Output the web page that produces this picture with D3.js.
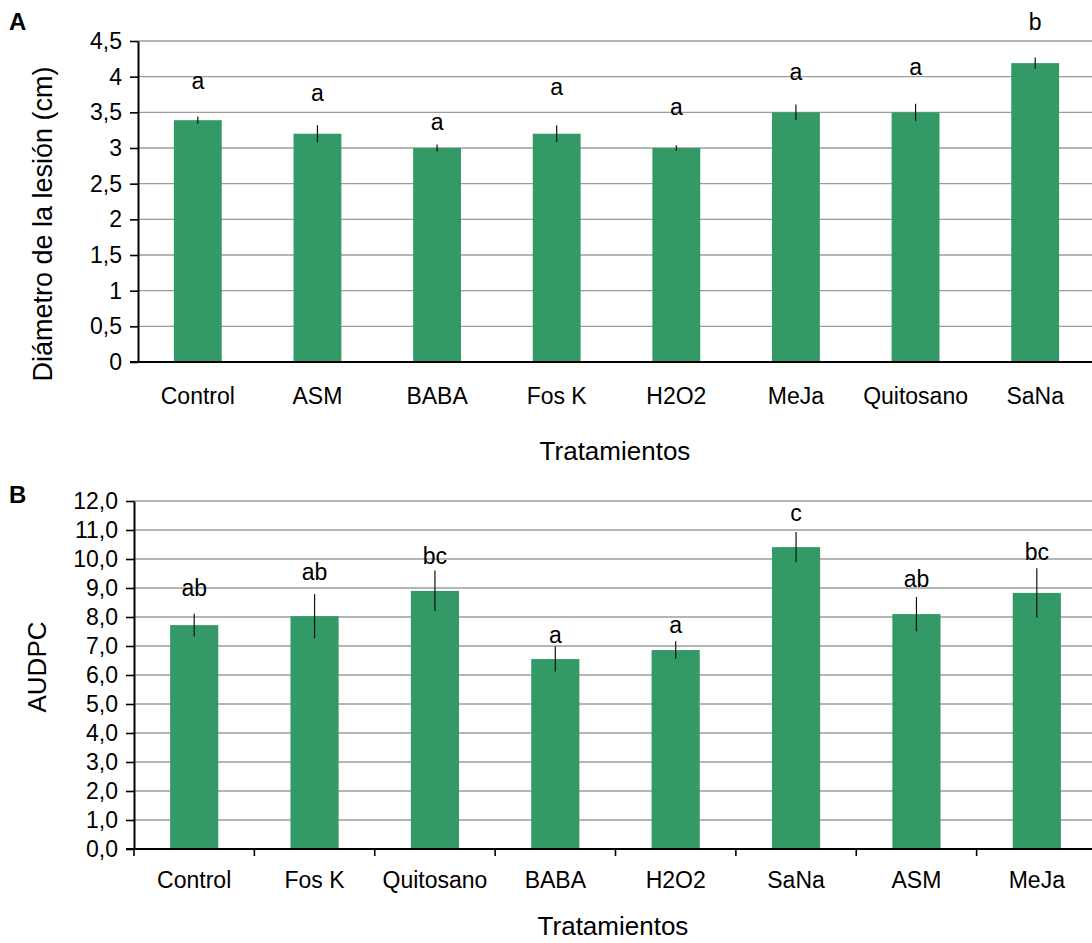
<!DOCTYPE html>
<html>
<head>
<meta charset="utf-8">
<script src="https://cdn.jsdelivr.net/npm/d3@7/dist/d3.min.js"></script>
<style>
  body { margin: 0; background: #fff; }
  text { font-family: "Liberation Sans", Arial, sans-serif; fill: #000; }
</style>
</head>
<body>
<svg id="chart" width="1092" height="943"></svg>
<script>
// panel A - diametro de la lesion
const catsA = ['Control', 'ASM', 'BABA', 'Fos K', 'H2O2', 'MeJa', 'Quitosano', 'SaNa'];
const valsA = [3.39, 3.2, 3.0, 3.2, 3.0, 3.5, 3.5, 4.19];
const errA = [0.05, 0.12, 0.05, 0.12, 0.04, 0.11, 0.12, 0.08];
const lettersA = ['a', 'a', 'a', 'a', 'a', 'a', 'a', 'b'];
const letterAtA = [3.95, 3.77, 3.37, 3.86, 3.58, 4.07, 4.14, 4.77];
const ticksA = [0, 0.5, 1, 1.5, 2, 2.5, 3, 3.5, 4, 4.5];

// panel B - AUDPC
const catsB = ['Control', 'Fos K', 'Quitosano', 'BABA', 'H2O2', 'SaNa', 'ASM', 'MeJa'];
const valsB = [7.72, 8.03, 8.9, 6.55, 6.86, 10.41, 8.1, 8.83];
const errB = [0.39, 0.76, 0.7, 0.43, 0.3, 0.52, 0.59, 0.85];
const lettersB = ['ab', 'ab', 'bc', 'a', 'a', 'c', 'ab', 'bc'];
const letterAtB = [9.0, 9.56, 10.1, 7.38, 7.72, 11.59, 9.31, 10.25];
const ticksB = d3.range(0, 12.01, 1);

const green = '#339966';
const comma = d3.formatLocale({ decimal: ',', thousands: '.', grouping: [3], currency: ['', ''] });

const svg = d3.select('#chart');

function drawPanel(opts) {
  const { cats, vals, errs, letters, letterAt, ticks, fmt, tag, yTitle,
          left, top, bottom, right, xTicks, tagY, catY, titleY, yTitleX, yTitleY, yTitleSize } = opts;

  const x = d3.scaleBand().domain(cats).range([left, right]).paddingInner(0.6).paddingOuter(0.3);
  const y = d3.scaleLinear().domain([0, ticks[ticks.length - 1]]).range([bottom, top]);

  const g = svg.append('g');

  // gridlines
  g.append('g')
    .selectAll('line')
    .data(ticks.slice(1))
    .join('line')
    .attr('x1', left)
    .attr('x2', 1092)
    .attr('y1', (d) => y(d))
    .attr('y2', (d) => y(d))
    .attr('stroke', '#9c9c9c')
    .attr('stroke-width', 1.4);

  // bars
  g.append('g')
    .selectAll('rect')
    .data(cats)
    .join('rect')
    .attr('x', (d) => x(d))
    .attr('width', x.bandwidth())
    .attr('y', (d, i) => y(vals[i]))
    .attr('height', (d, i) => bottom - y(vals[i]))
    .attr('fill', green);

  // error bars
  g.append('g')
    .selectAll('line')
    .data(cats)
    .join('line')
    .attr('x1', (d) => x(d) + x.bandwidth() / 2)
    .attr('x2', (d) => x(d) + x.bandwidth() / 2)
    .attr('y1', (d, i) => y(vals[i] + errs[i]))
    .attr('y2', (d, i) => y(vals[i] - errs[i]))
    .attr('stroke', '#111')
    .attr('stroke-width', 1.2);

  // significance letters
  g.append('g')
    .selectAll('text')
    .data(cats)
    .join('text')
    .attr('x', (d) => x(d) + x.bandwidth() / 2)
    .attr('y', (d, i) => y(letterAt[i]))
    .attr('dy', '0.36em')
    .attr('text-anchor', 'middle')
    .style('font-size', '23px')
    .text((d, i) => letters[i]);

  // y axis
  const yAxis = g.append('g')
    .attr('transform', `translate(${left},0)`)
    .call(d3.axisLeft(y).tickValues(ticks).tickFormat(fmt).tickSize(8).tickPadding(8).tickSizeOuter(0));
  yAxis.select('.domain').attr('stroke', '#000').attr('stroke-width', 2);
  yAxis.selectAll('.tick line').attr('stroke', '#000').attr('stroke-width', 1.6);
  yAxis.selectAll('.tick text').style('font-size', '23px').attr('fill', '#000');

  // x axis line
  g.append('line')
    .attr('x1', left - 8)
    .attr('x2', 1092)
    .attr('y1', bottom)
    .attr('y2', bottom)
    .attr('stroke', '#000')
    .attr('stroke-width', 2);

  if (xTicks) {
    const step = x.step();
    g.append('g')
      .selectAll('line')
      .data(d3.range(cats.length))
      .join('line')
      .attr('x1', (i) => left + i * step)
      .attr('x2', (i) => left + i * step)
      .attr('y1', bottom)
      .attr('y2', bottom + 7)
      .attr('stroke', '#000')
      .attr('stroke-width', 1.6);
  }

  // category labels
  g.append('g')
    .selectAll('text')
    .data(cats)
    .join('text')
    .attr('x', (d) => x(d) + x.bandwidth() / 2)
    .attr('y', catY)
    .attr('text-anchor', 'middle')
    .style('font-size', '23px')
    .text((d) => d);

  // axis titles
  g.append('text')
    .attr('x', (left + 1092) / 2)
    .attr('y', titleY)
    .attr('text-anchor', 'middle')
    .style('font-size', '26px')
    .text('Tratamientos');

  g.append('text')
    .attr('transform', `translate(${yTitleX},${yTitleY}) rotate(-90)`)
    .attr('text-anchor', 'middle')
    .style('font-size', yTitleSize)
    .text(yTitle);

  g.append('text')
    .attr('x', 9)
    .attr('y', tagY)
    .style('font-size', '24px')
    .style('font-weight', 'bold')
    .text(tag);
}

drawPanel({
  cats: catsA, vals: valsA, errs: errA, letters: lettersA, letterAt: letterAtA,
  ticks: ticksA, fmt: comma.format(',~g'), tag: 'A', yTitle: 'Diámetro de la lesión (cm)',
  left: 138, right: 1095, top: 41, bottom: 362, xTicks: false,
  tagY: 30, catY: 404, titleY: 460, yTitleX: 52, yTitleY: 224, yTitleSize: '27px',
});

drawPanel({
  cats: catsB, vals: valsB, errs: errB, letters: lettersB, letterAt: letterAtB,
  ticks: ticksB, fmt: comma.format(',.1f'), tag: 'B', yTitle: 'AUDPC',
  left: 134, right: 1097, top: 501, bottom: 849, xTicks: true,
  tagY: 503, catY: 888, titleY: 935, yTitleX: 46, yTitleY: 667, yTitleSize: '26px',
});
</script>
</body>
</html>
